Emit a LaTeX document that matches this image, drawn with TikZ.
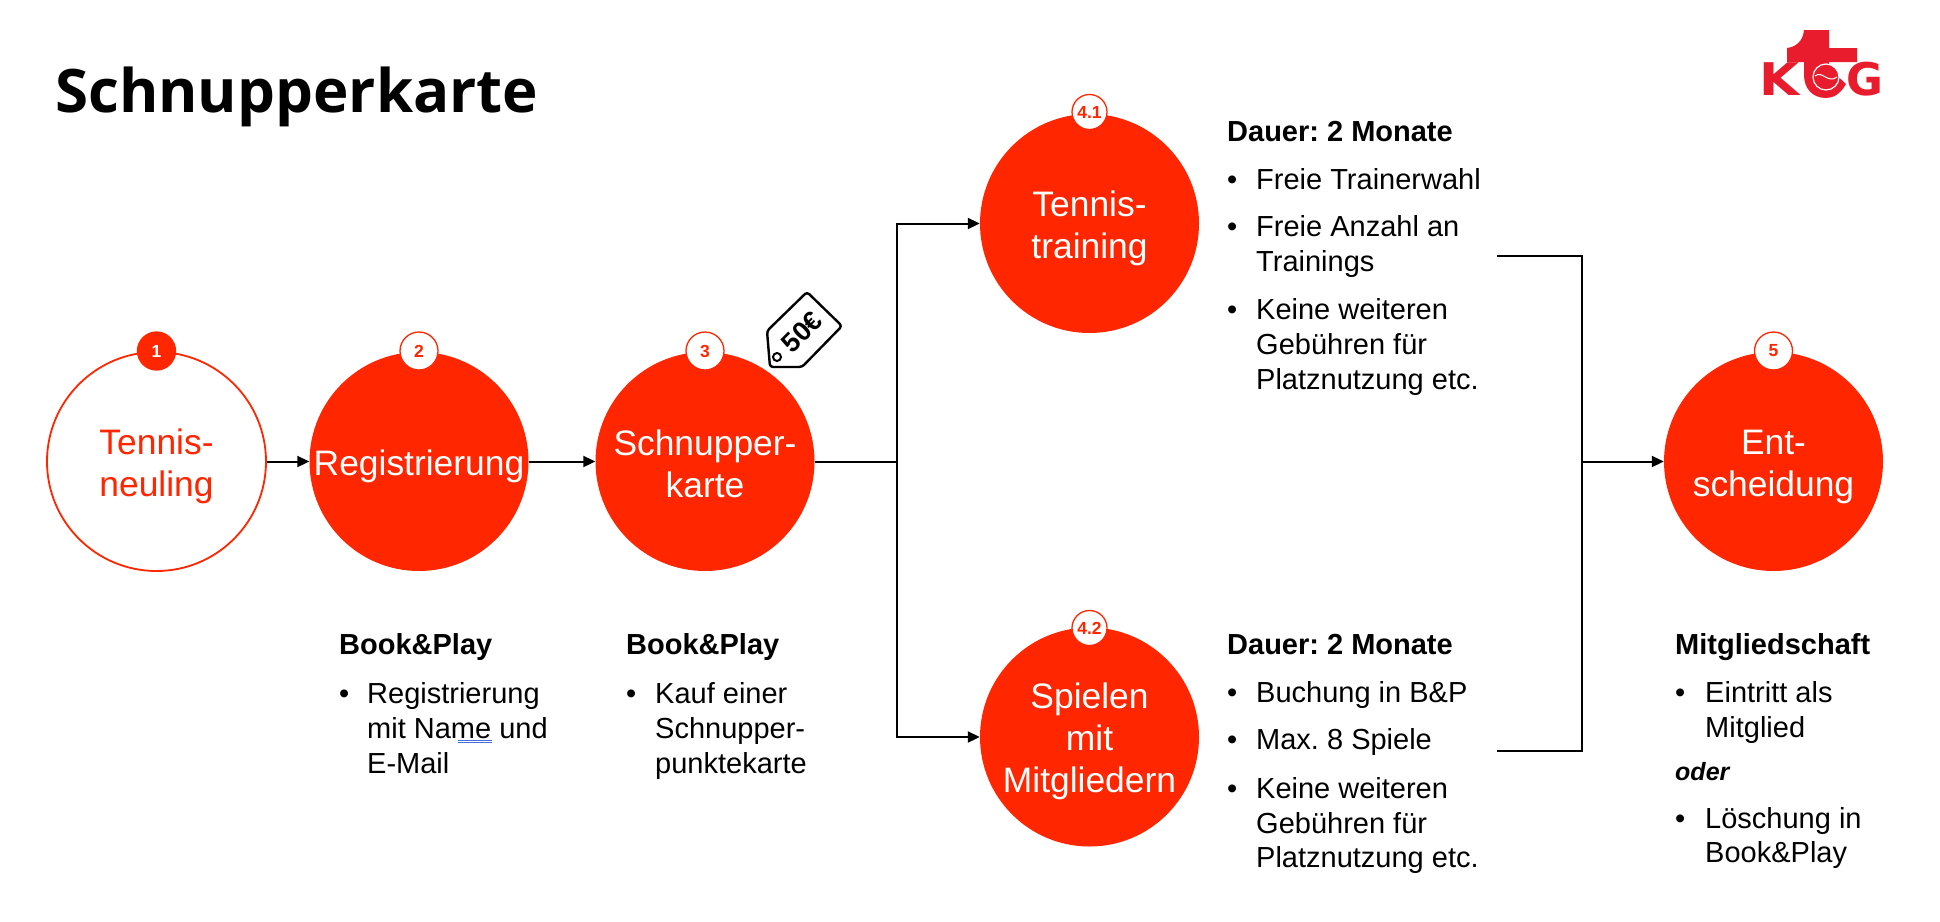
\documentclass[tikz,border=0pt]{standalone}
\usepackage{fontspec}
\frenchspacing
\setmainfont{Liberation Sans}
\newfontfamily\titlefont{Open Sans}
\newfontfamily\logofont{DejaVu Sans}
\usetikzlibrary{arrows.meta}
\definecolor{kred}{RGB}{255,38,0}
\definecolor{logored}{RGB}{232,28,44}
\definecolor{spell}{RGB}{70,110,220}
\tikzset{
  x=1pt,y=-1pt,
  bigc/.style={circle,minimum size=219pt,inner sep=0pt},
  solidc/.style={bigc,fill=kred},
  openc/.style={bigc,draw=kred,line width=1.8pt,fill=white},
  lbw/.style={inner sep=0pt,align=center,yshift=-5pt,text=white,font=\fontsize{35.4}{42}\selectfont},
  lbr/.style={lbw,text=kred},
  badge/.style={circle,minimum size=38pt,inner sep=0pt,draw=kred,line width=1.3pt,fill=white,text=kred,font=\fontsize{17.5}{20}\bfseries\selectfont},
  badgefull/.style={badge,fill=kred,text=white},
  conn/.style={draw=black,line width=2pt},
  arr/.style={conn,-{Triangle[length=12pt,width=11pt]}},
  tx/.style={anchor=base west,inner sep=0pt,font=\fontsize{29}{35}\selectfont,text=black},
  hd/.style={tx,font=\fontsize{29}{35}\bfseries\selectfont},
  logot/.style={anchor=base west,inner sep=0pt,text=logored,font=\fontsize{45}{50}\logofont\bfseries},
}
\begin{document}
\begin{tikzpicture}
\useasboundingbox (0,0) rectangle (1940,921);
\fill[white] (0,0) rectangle (1940,921);
% title
\node[anchor=base west,inner sep=0pt,font=\fontsize{60}{70}\titlefont\bfseries] (title) at (55,112) {Schnupperkarte};
% circles
\node[openc,label={[lbr]center:Tennis-\\neuling}] (c1) at (156.5,461.5) {};
\node[solidc,label={[lbw]center:Registrierung}] (c2) at (419,461.5) {};
\node[solidc,label={[lbw,yshift=2.5pt]center:Schnupper-\\karte}] (c3) at (705,461.5) {};
\node[solidc,label={[lbw]center:Tennis-\\training}] (c41) at (1089.5,223.5) {};
\node[solidc,label={[lbw,yshift=1pt]center:Spielen\\mit\\Mitgliedern}] (c42) at (1089.5,737) {};
\node[solidc,label={[lbw]center:Ent-\\scheidung}] (c5) at (1773.5,461.5) {};
% badges
\node[badgefull] (b1) at (156.5,351) {1};
\node[badge] (b2) at (419,351) {2};
\node[badge] (b3) at (705,351) {3};
\node[badge,minimum size=35pt] (b41) at (1089.5,112) {4.1};
\node[badge,minimum size=35pt] (b42) at (1089.5,628) {4.2};
\node[badge] (b5) at (1773.5,351) {5};
% connectors
\coordinate (j1) at (897,461.5);
\coordinate (j2) at (1582,461.5);
\coordinate (t41) at (1497,256);
\coordinate (t42) at (1497,751);
\draw[arr] (c1) -- (c2);
\draw[arr] (c2) -- (c3);
\draw[conn] (c3) -- (j1);
\draw[arr] (j1) |- (c41.west);
\draw[arr] (j1) |- (c42.west);
\draw[conn] (t41) -| (j2);
\draw[conn] (t42) -| (j2);
\draw[arr] (j2) -- (c5);
% price tag
\draw[line width=2.4pt,line join=round,rounded corners=3pt] (807,292) -- (842,326) -- (802,367) -- (770,367) -- (767,331) -- cycle;
\draw[line width=2pt] (777,357) circle (4pt);
\node[rotate=45,inner sep=0pt,font=\fontsize{27}{30}\bfseries\selectfont] (tag) at (802,332) {50€};
% columns
\node[hd] (h2) at (339,654) {Book\&Play};
\node[tx] at (339,703) {•};
\node[tx] at (367,703) {Registrierung};
\node[tx] (n2) at (367,738) {mit Name und};
\node[tx] at (367,773) {E-Mail};
\draw[spell,line width=.7pt] (458,740.5) -- (492,740.5) (458,742.5) -- (492,742.5);
\node[hd] (h3) at (626,654) {Book\&Play};
\node[tx] at (626,703) {•};
\node[tx] at (655,703) {Kauf einer};
\node[tx] at (655,738) {Schnupper-};
\node[tx] at (655,773) {punktekarte};
\node[hd] at (1227,141) {Dauer: 2 Monate};
\node[tx] at (1227,189) {•};
\node[tx] at (1256,189) {Freie Trainerwahl};
\node[tx] at (1227,236) {•};
\node[tx] at (1256,236) {Freie Anzahl an};
\node[tx] at (1256,271) {Trainings};
\node[tx] at (1227,319) {•};
\node[tx] at (1256,319) {Keine weiteren};
\node[tx] at (1256,354) {Gebühren für};
\node[tx] at (1256,389) {Platznutzung etc.};
\node[hd] at (1227,654) {Dauer: 2 Monate};
\node[tx] at (1227,702) {•};
\node[tx] at (1256,702) {Buchung in B\&P};
\node[tx] at (1227,749) {•};
\node[tx] at (1256,749) {Max. 8 Spiele};
\node[tx] at (1227,798) {•};
\node[tx] at (1256,798) {Keine weiteren};
\node[tx] at (1256,833) {Gebühren für};
\node[tx] at (1256,867) {Platznutzung etc.};
\node[hd] at (1675,654) {Mitgliedschaft};
\node[tx] at (1675,702) {•};
\node[tx] at (1705,702) {Eintritt als};
\node[tx] at (1705,737) {Mitglied};
\node[tx,font=\fontsize{25}{30}\bfseries\itshape\selectfont] at (1675,780) {oder};
\node[tx] at (1675,828) {•};
\node[tx] at (1705,828) {Löschung in};
\node[tx] at (1705,862) {Book\&Play};
% logo
\begin{scope}
\node[logot,xscale=1.15] (lk) at (1759,95) {K};
\node[logot] (lg) at (1846,95) {G};
\fill[logored] (1804,30) -- (1829,30) -- (1829,48) -- (1857,48) -- (1857,62) -- (1829,62) -- (1829,68) -- (1846,84) .. controls (1840,95) and (1832,98) .. (1826,98) .. controls (1812,98) and (1804,88) .. (1804,75) -- (1804,62) -- (1787,62) -- (1787,48) .. controls (1795,47) and (1803,42) .. (1804,30) -- cycle;
\draw[white,fill=logored,line width=1.2pt] (1826,77) circle (13pt);
\draw[white,line width=1pt] (1815,76) .. controls (1822,70) and (1828,84) .. (1837,77);
\end{scope}
\end{tikzpicture}
\end{document}
